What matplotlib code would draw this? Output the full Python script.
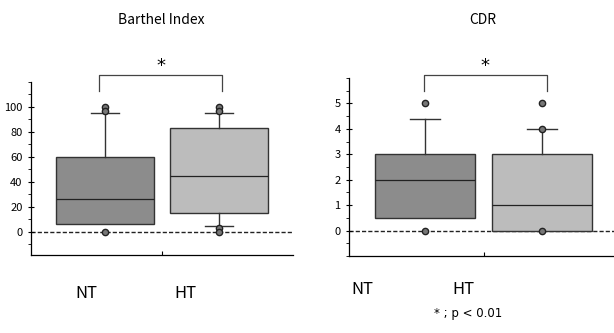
import numpy as np
import matplotlib
matplotlib.use("Agg")
from matplotlib import pyplot as plt

plt.rcParams["font.family"] = ["Noto Sans CJK JP", "DejaVu Sans"]

#########################################
### Data
#########################################
groups = ["NT", "HT"]

# Barthel Index
bi_q1 = [6, 15]
bi_med = [26, 45]
bi_q3 = [60, 83]
bi_whislo = [6, 5]
bi_whishi = [95, 95]
bi_fliers = [[100, 97, 0], [100, 97, 3, 0]]
bi_lowcap = [False, True]

# CDR
cdr_q1 = [0.5, 0]
cdr_med = [2, 1]
cdr_q3 = [3, 3]
cdr_whislo = [0.5, 0]
cdr_whishi = [4.4, 4]
cdr_fliers = [[5, 0], [5, 4, 0]]
cdr_lowcap = [False, False]

box_colors = ["#8c8c8c", "#bcbcbc"]
edge = "#333333"


def draw_panel(ax, q1, med, q3, wlo, whi, fliers, lowcap, ylim, yticks, minor, bracket):
    stats = []
    for i in range(len(groups)):
        stats.append(dict(med=med[i], q1=q1[i], q3=q3[i], whislo=wlo[i],
                          whishi=whi[i], fliers=fliers[i], label=groups[i]))
    bp = ax.bxp(stats, positions=[0, 1], widths=0.86, capwidths=0.25,
                patch_artist=True,
                boxprops=dict(edgecolor=edge, linewidth=1.0),
                medianprops=dict(color="#222222", linewidth=0.9),
                whiskerprops=dict(color=edge, linewidth=1.0),
                capprops=dict(color=edge, linewidth=1.0),
                flierprops=dict(marker="o", markersize=4.5, markerfacecolor="#777777",
                                markeredgecolor="#222222", markeredgewidth=1.0))
    for patch, c in zip(bp["boxes"], box_colors):
        patch.set_facecolor(c)
    # hide lower whisker caps where the reference has none
    for i in range(len(groups)):
        if not lowcap[i]:
            bp["caps"][2 * i].set_visible(False)
    for fl in bp["fliers"]:
        fl.set_zorder(4)

    ax.axhline(0, color="#222222", linestyle=(0, (3, 1.5)), linewidth=1.0, zorder=1)
    ax.set_xlim(-0.65, 1.65)
    ax.set_ylim(*ylim)
    ax.set_yticks(yticks)
    ax.set_yticks(minor, minor=True)
    ax.set_xticks([0.5])
    ax.set_xticklabels([])
    ax.tick_params(axis="x", direction="in", length=3, width=0.8)
    ax.tick_params(axis="y", which="major", direction="inout", length=4, width=0.8,
                   labelsize=8, pad=4)
    ax.tick_params(axis="y", which="minor", direction="out", length=2, width=0.6)
    for s in ["top", "right"]:
        ax.spines[s].set_visible(False)
    ax.spines["left"].set_linewidth(0.9)
    ax.spines["bottom"].set_linewidth(0.9)

    # significance bracket
    bx0, bx1, ytop, yleg = bracket
    ax.plot([bx0, bx0, bx1, bx1], [yleg, ytop, ytop, yleg], color="#444444",
            linewidth=0.9, clip_on=False)
    ax.text((bx0 + bx1) / 2, ytop, "*", ha="center", va="bottom", fontsize=13,
            family="DejaVu Sans", clip_on=False)


fig = plt.figure(figsize=(6.14, 3.33), dpi=100)

ax1 = fig.add_axes([31 / 614, 78 / 333, 262 / 614, 173 / 333])
draw_panel(ax1, bi_q1, bi_med, bi_q3, bi_whislo, bi_whishi, bi_fliers, bi_lowcap,
           (-18.6, 120), np.arange(0, 101, 20), np.arange(-10, 121, 10),
           (-0.05, 1.03, 126, 113))

ax2 = fig.add_axes([349 / 614, 77 / 333, 269 / 614, 178 / 333])
draw_panel(ax2, cdr_q1, cdr_med, cdr_q3, cdr_whislo, cdr_whishi, cdr_fliers, cdr_lowcap,
           (-1, 6), np.arange(0, 6, 1), np.arange(-1, 6.01, 0.5),
           (-0.01, 1.04, 6.13, 5.5))

# titles and group labels
fig.text(161 / 614, 1 - 20 / 333, "Barthel Index", ha="center", va="center", fontsize=10)
fig.text(483 / 614, 1 - 20 / 333, "CDR", ha="center", va="center", fontsize=10)
fig.text(86 / 614, 1 - 293 / 333, "NT", ha="center", va="center", fontsize=12)
fig.text(185 / 614, 1 - 293 / 333, "HT", ha="center", va="center", fontsize=12)
fig.text(362 / 614, 1 - 289 / 333, "NT", ha="center", va="center", fontsize=12)
fig.text(463 / 614, 1 - 289 / 333, "HT", ha="center", va="center", fontsize=12)
fig.text(468 / 614, 1 - 313 / 333, "* ; p < 0.01", ha="center", va="center", fontsize=8.5,
         family="DejaVu Sans")

plt.savefig("out.png", dpi=100)
